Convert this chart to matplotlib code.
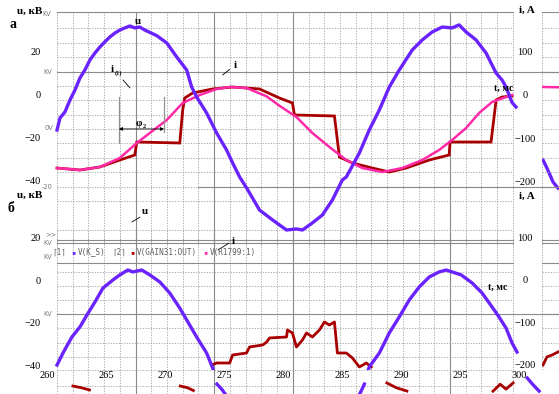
import numpy as np
import matplotlib
matplotlib.use("Agg")
import matplotlib.pyplot as plt

# ---------------- data (t in ms, u in kV, i in A) ----------------
# panel a : voltage u
t_u_a = [260.85, 261.10, 261.52, 261.95, 262.37, 262.79, 263.21, 263.64, 264.06, 264.48,
         264.90, 265.33, 265.75, 266.17, 266.60, 267.02, 267.44, 267.86, 268.29, 269.30,
         270.15, 270.99, 271.84, 272.26, 272.68, 273.53, 274.38, 275.22, 275.73, 276.32,
         277.00, 277.17, 278.01, 279.11, 280.30, 281.14, 281.65, 282.49, 283.34, 284.19,
         285.03, 285.37, 286.47, 287.31, 288.16, 289.01, 289.85, 290.95, 291.80, 292.64,
         293.49, 294.33, 294.93, 295.52, 296.36, 297.21, 298.06, 298.56, 298.90, 299.41, 299.75]
u_a = [-16.3, -10.7, -7.9, -2.3, 2.3, 7.9, 11.6, 16.3, 19.5, 22.3,
       24.7, 27.0, 28.8, 30.2, 31.2, 32.1, 31.2, 31.6, 30.2, 27.6,
       24.2, 17.7, 11.6, 3.7, -0.9, -8.4, -17.7, -25.6, -31.6, -38.1,
       -44.0, -45.6, -53.5, -58.1, -62.8, -62.3, -62.8, -59.5, -55.8, -48.8,
       -39.5, -38.1, -27.0, -16.3, -7.0, 3.7, 11.6, 20.9, 25.6, 29.3,
       31.6, 31.2, 32.6, 29.3, 25.6, 19.5, 10.2, 7.0, 3.7, -3.5, -5.6]
# panel a : current i (fundamental, pink)
t_i1_a = [260.85, 262.79, 264.48, 266.17, 267.61, 268.71, 270.15, 271.50, 272.94, 274.38,
          275.48, 276.91, 278.60, 279.70, 281.14, 282.49, 283.93, 285.37, 286.72, 288.41,
          290.11, 291.80, 293.23, 294.33, 295.52, 296.62, 297.72, 298.90, 299.41]
i1_a = [-169.8, -174.4, -167.4, -146.5, -111.6, -88.4, -58.1, -18.6, 0.0, 14.0,
        18.6, 16.3, -3.0, -25.0, -51.2, -88.4, -120.9, -151.2, -169.8, -179.1,
        -169.8, -151.2, -127.9, -104.7, -76.7, -41.9, -16.3, -4.7, 0.0]
# panel a : current i (stepped, dark red)
t_i_a = [260.85, 262.79, 264.48, 266.17, 267.44, 267.61, 271.25, 271.50, 271.67, 272.35,
         274.04, 275.73, 278.01, 279.70, 280.80, 280.97, 284.36, 284.78, 285.88, 287.57,
         289.01, 290.44, 292.39, 294.08, 294.16, 297.63, 298.06, 298.56, 299.41]
i_a = [-169.8, -174.4, -167.4, -151.2, -139.5, -109.3, -111.6, -34.9, -7.0, 4.7,
       14.0, 18.6, 14.0, -7.0, -18.6, -46.5, -48.8, -144.2, -158.1, -169.8,
       -179.1, -169.8, -151.2, -139.5, -109.3, -109.3, -11.6, -4.7, -2.3]

# panel b : voltage u (two visible pieces)
t_u_b1 = [260.85, 261.35, 262.11, 262.79, 263.38, 264.06, 264.74, 265.58, 266.17, 266.85,
          267.27, 268.03, 268.71, 269.56, 270.40, 271.25, 271.84, 272.68, 273.53, 274.04, 274.63]
u_b1 = [-40.0, -34.4, -26.8, -22.1, -16.5, -10.4, -3.8, 0.0, 2.4, 4.7,
        3.8, 4.7, 2.4, -0.9, -6.1, -13.2, -18.8, -26.8, -34.4, -41.4, -51.8]
t_u_b2 = [286.64, 287.31, 288.16, 289.01, 289.85, 290.70, 291.54, 292.39, 293.23, 293.83,
          294.33, 295.10, 296.03, 296.87, 297.72, 298.31, 298.90, 299.41, 299.83]
u_b2 = [-51.8, -40.9, -34.4, -24.9, -17.4, -9.4, -3.3, 1.4, 3.8, 4.7,
        3.8, 2.4, -1.4, -6.1, -12.7, -17.4, -22.6, -29.6, -33.9]
# panel b : current i (dark red)
t_i_b = [273.95, 274.38, 275.48, 275.73, 276.91, 277.17, 278.27, 278.60, 278.86, 280.30,
         280.38, 280.80, 281.14, 281.65, 281.99, 282.49, 283.09, 283.51, 283.93, 284.36,
         284.61, 285.37, 285.88, 286.47, 287.06, 287.48]
i_b = [-200.0, -195.3, -195.3, -176.5, -171.8, -157.6, -152.9, -146.5, -136.4, -134.1,
       -117.6, -124.7, -157.6, -141.2, -124.7, -134.1, -117.6, -98.8, -105.9, -98.8,
       -171.8, -171.8, -183.5, -204.7, -195.3, -204.7]

# fragments in the narrow strip at the right edge
strip_x = [0.06, 0.29, 0.47, 0.65, 0.94]
strip_u_blue = [-30.2, -34.0, -37.2, -40.5, -43.3]
strip_x2 = [0.06, 0.94]
strip_i_pink = [18.6, 18.0]
strip_x3 = [0.06, 0.29, 0.59, 0.94]
strip_i_red = [-200.0, -181.0, -176.5, -169.4]

# fragments of a further panel visible at the bottom edge (level 0..1)
frag_red_t = [[262.2, 262.9, 263.6], [271.3, 271.9, 272.4], [288.8, 289.6, 290.5],
              [297.8, 298.4, 298.9, 299.5]]
frag_red_v = [[0.57, 0.45, 0.29], [0.57, 0.45, 0.25], [0.79, 0.45, 0.21],
              [0.2, 0.7, 0.35, 0.79]]
frag_blue_t = [[274.4, 274.8, 275.1], [286.5, 286.7, 286.9], [300.7, 301.2, 301.7]]
frag_blue_v = [[0.71, 0.35, 0.0], [0.0, 0.35, 0.71], [1.14, 0.65, 0.21]]

x_ticks = [260, 265, 270, 275, 280, 285, 290, 295, 300]
u_ticks = [20, 0, -20, -40]
i_ticks = [100, 0, -100, -200]

# ---------------- style ----------------
BLUE = "#6a22ff"
PINK = "#ff2aa8"
RED = "#a80000"
GSOL = "#8a8a8a"
GDOT = "#a5a5a5"
GTXT = "#7a7a7a"
SERIF = ["Liberation Serif", "DejaVu Serif"]
MONO = ["DejaVu Sans Mono"]

W, H = 559, 394
fig = plt.figure(figsize=(W / 100, H / 100), dpi=100)
fig.patch.set_facecolor("white")


def rect(x0, y0, x1, y1):
    return [x0 / W, 1 - y1 / H, (x1 - x0) / W, (y1 - y0) / H]


def P(x, y):
    return (x / W, 1 - y / H)


def clean(ax):
    ax.set_facecolor("none")
    for s in ax.spines.values():
        s.set_visible(False)
    ax.tick_params(length=0)


PAD = 6 * 72 / 100  # 6 px in points

# vertical grid (PSpice grid)
t_grid = 260.847 + 1.3322 * np.arange(30)
solid_k = {5, 10, 15, 25}
X0F, X1F = (57 - 47) / 472, (513 - 47) / 472


def vgrid(ax, ymin=0, ymax=1):
    for k, t in enumerate(t_grid):
        if k in solid_k:
            ax.axvline(t, ymin, ymax, color=GSOL, lw=0.8, zorder=0.5, clip_on=False)
        else:
            ax.axvline(t, ymin, ymax, color=GDOT, lw=0.6, ls=(0, (1.6, 1.6)),
                       zorder=0.5, clip_on=False)


def hgrid(ax, solid, dotted, x0=X0F, x1=X1F):
    for v in solid:
        ax.axhline(v, x0, x1, color=GSOL, lw=0.8, zorder=0.5, clip_on=False)
    for v in dotted:
        ax.axhline(v, x0, x1, color=GDOT, lw=0.6, ls=(0, (1.6, 1.6)),
                   zorder=0.5, clip_on=False)


# ---------------- panel a ----------------
ai = fig.add_axes(rect(47, 12, 519, 245))
au = ai.twinx()
for a in (ai, au):
    clean(a)
ai.set_xlim(260, 300)
ai.set_ylim(-348.8, 193.0)
au.set_ylim(-69.77, 38.60)
ai.yaxis.tick_right()
au.yaxis.tick_left()
ai.set_yticks(i_ticks)
au.set_yticks(u_ticks)
ai.set_xticks([])
ai.tick_params(axis="y", pad=PAD, labelsize=7.5)
au.tick_params(axis="y", pad=PAD, labelsize=7.5)
for lb in ai.get_yticklabels():
    lb.set_ha("center"); lb.set_family(SERIF)
for lb in au.get_yticklabels():
    lb.set_family(SERIF)

vgrid(ai)
hgrid(ai, [193.0, 53.5], [155.8, 120.9, 88.4, 20.9, -11.6, -46.5, -79.1, -111.6,
                          -146.5, -179.1, -246.5, -314.0])
hgrid(ai, [-214.0], [], x0=(198 - 47) / 472, x1=1.085)
hgrid(ai, [], [-214.0], x0=X0F, x1=(198 - 47) / 472)
ai.axhline(53.5, X1F, 1.085, color=GSOL, lw=0.8, clip_on=False, zorder=0.5)

ai.plot(t_i_a, i_a, color=RED, lw=2.0, zorder=2, solid_joinstyle="miter")
ai.plot(t_i1_a, i1_a, color=PINK, lw=1.8, zorder=3)
au.plot(t_u_a, u_a, color=BLUE, lw=2.4, zorder=3)

# phi_2 construction
au.plot([266.10, 266.10], [-0.9, -22.3], color="#909090", lw=0.9)
au.plot([269.92, 269.92], [-0.9, -17.2], color="#909090", lw=0.9)
au.annotate("", xy=(266.10, -15.8), xytext=(269.92, -15.8),
            arrowprops=dict(arrowstyle="<|-|>", color="black", lw=0.6,
                            mutation_scale=5, shrinkA=0, shrinkB=0))
# leaders
au.annotate("", xy=(274.88, 9.3), xytext=(275.48, 11.9),
            arrowprops=dict(arrowstyle="-", color="black", lw=0.6, shrinkA=0, shrinkB=0))
au.annotate("", xy=(267.03, 3.3), xytext=(266.44, 7.0),
            arrowprops=dict(arrowstyle="-", color="black", lw=0.6, shrinkA=0, shrinkB=0))

# ---------------- panel b ----------------
bi = fig.add_axes(rect(47, 233, 519, 370))
bu = bi.twinx()
for a in (bi, bu):
    clean(a)
bi.set_xlim(260, 300)
bi.set_ylim(-211.8, 110.6)
bu.set_ylim(-42.35, 22.12)
bi.yaxis.tick_right()
bu.yaxis.tick_left()
bi.set_yticks(i_ticks)
bu.set_yticks(u_ticks)
bi.set_xticks(x_ticks)
bi.tick_params(axis="y", pad=PAD, labelsize=7.5)
bu.tick_params(axis="y", pad=PAD, labelsize=7.5)
bi.tick_params(axis="x", pad=0.8, labelsize=7.5)
for lb in bi.get_yticklabels():
    lb.set_ha("center"); lb.set_family(SERIF)
for lb in bu.get_yticklabels() + bi.get_xticklabels():
    lb.set_family(SERIF)

vgrid(bi, ymin=-0.175, ymax=1)
hgrid(bi, [94.1, 87.1, 40.0, -80.0], [18.8, -14.1, -47.1, -112.9, -148.2, -181.2,
                                      -211.8, -249.4])
bi.axhline(-80.0, X1F, 1.085, color=GSOL, lw=0.8, clip_on=False, zorder=0.5)

bi.plot(t_i_b, i_b, color=RED, lw=2.0, zorder=2)
bu.plot(t_u_b1, u_b1, color=BLUE, lw=2.4, zorder=3)
bu.plot(t_u_b2, u_b2, color=BLUE, lw=2.4, zorder=3)

bu.annotate("", xy=(267.20, 27.3), xytext=(267.88, 29.6), annotation_clip=False,
            arrowprops=dict(arrowstyle="-", color="black", lw=0.6, shrinkA=0, shrinkB=0))
bu.annotate("", xy=(274.49, 14.1), xytext=(275.42, 17.4), annotation_clip=False,
            arrowprops=dict(arrowstyle="-", color="black", lw=0.6, shrinkA=0, shrinkB=0))

# ---------------- bottom sliver (next panel, cut off) ----------------
sl = fig.add_axes(rect(47, 380, 519, 394))
clean(sl); sl.set_xticks([]); sl.set_yticks([])
sl.set_xlim(260, 300); sl.set_ylim(0, 1)
for tt, vv in zip(frag_red_t, frag_red_v):
    sl.plot(tt, vv, color=RED, lw=2.0, clip_on=False)
for tt, vv in zip(frag_blue_t, frag_blue_v):
    sl.plot(tt, vv, color=BLUE, lw=2.4, clip_on=False)

# ---------------- right strip fragments ----------------
st = fig.add_axes(rect(542, 12, 559, 245))
st2 = st.twinx()
for a in (st, st2):
    clean(a); a.set_xticks([]); a.set_yticks([])
st.set_xlim(0, 1); st.set_ylim(-69.77, 38.60)
st2.set_ylim(-348.8, 193.0)
st.axvline(0, color=GDOT, lw=0.6, ls=(0, (1.6, 1.6)))
for v in [193.0, 53.5, -214.0]:
    st2.axhline(v, color=GSOL, lw=0.8)
for v in [155.8, 120.9, 88.4, 20.9, -11.6, -46.5, -79.1, -111.6, -146.5, -179.1]:
    st2.axhline(v, color=GDOT, lw=0.6, ls=(0, (1.6, 1.6)))
st2.plot(strip_x2, strip_i_pink, color=PINK, lw=1.8)
st.plot(strip_x, strip_u_blue, color=BLUE, lw=2.4)

sb = fig.add_axes(rect(542, 233, 559, 370))
clean(sb); sb.set_xticks([]); sb.set_yticks([])
sb.set_xlim(0, 1); sb.set_ylim(-211.8, 110.6)
sb.axvline(0, color=GDOT, lw=0.6, ls=(0, (1.6, 1.6)))
for v in [94.1, 87.1, 40.0, -80.0, -211.8]:
    sb.axhline(v, color=GSOL, lw=0.8)
for v in [18.8, -14.1, -47.1, -112.9, -148.2, -181.2]:
    sb.axhline(v, color=GDOT, lw=0.6, ls=(0, (1.6, 1.6)))
sb.plot(strip_x3, strip_i_red, color=RED, lw=2.0)

# ---------------- texts ----------------
def T(x, y, s, size=8, bold=True, ha="left", va="center", color="black", family=SERIF):
    fig.text(*P(x, y), s, fontsize=size, fontweight="bold" if bold else "normal",
             ha=ha, va=va, color=color, family=family)


T(17, 11, "u, кВ", 8)
T(42, 14, "KV", 4.8, bold=False, color=GTXT, family=["DejaVu Sans"])
T(9, 24, "а", 10)
T(519, 10, "i, A", 8)
T(138, 21, "u", 8, ha="center")
T(235, 66, "i", 8, ha="center")
T(111, 70, "i", 8)
T(115, 73, "(1)", 4.5)
T(136, 123, "φ", 7.5)
T(143, 126, "2", 4.5)
T(494, 88, "t, мс", 7)

T(43, 72, "KV", 4.8, bold=False, color=GTXT, family=["DejaVu Sans"])
T(45, 128, "0V", 4.8, bold=False, color=GTXT, family=["DejaVu Sans"])
T(42, 187, "-20", 4.8, bold=False, color=GTXT, family=["DejaVu Sans"])

T(17, 195, "u, кВ", 8)
T(8, 209, "б", 10)
T(519, 196, "i, A", 8)
T(145, 212, "u", 8, ha="center")
T(233, 241, "i", 8, ha="center")
T(488, 287, "t, мс", 7)
T(45, 234, ">>", 4.8, bold=False, color=GTXT, family=["DejaVu Sans"])
T(43, 243, "KV", 4.8, bold=False, color=GTXT, family=["DejaVu Sans"])
T(43, 257, "KV", 4.8, bold=False, color=GTXT, family=["DejaVu Sans"])
T(43, 314, "KV", 4.8, bold=False, color=GTXT, family=["DejaVu Sans"])

# PSpice legend row
T(52, 252, "⌈1⌉", 5.5, bold=False, color="#606060", family=MONO)
T(71, 252, "▪", 5, bold=False, color=BLUE, family=MONO)
T(78, 252, "V(K_S)", 5.5, bold=False, color="#606060", family=MONO)
T(112, 252, "⌈2⌉", 5.5, bold=False, color="#606060", family=MONO)
T(130, 252, "▪", 5, bold=False, color=RED, family=MONO)
T(137, 252, "V(GAIN31:OUT)", 5.5, bold=False, color="#606060", family=MONO)
T(203, 252, "▪", 5, bold=False, color=PINK, family=MONO)
T(210, 252, "V(R1799:1)", 5.5, bold=False, color="#606060", family=MONO)

fig.savefig("out.png", dpi=100, facecolor="white")
